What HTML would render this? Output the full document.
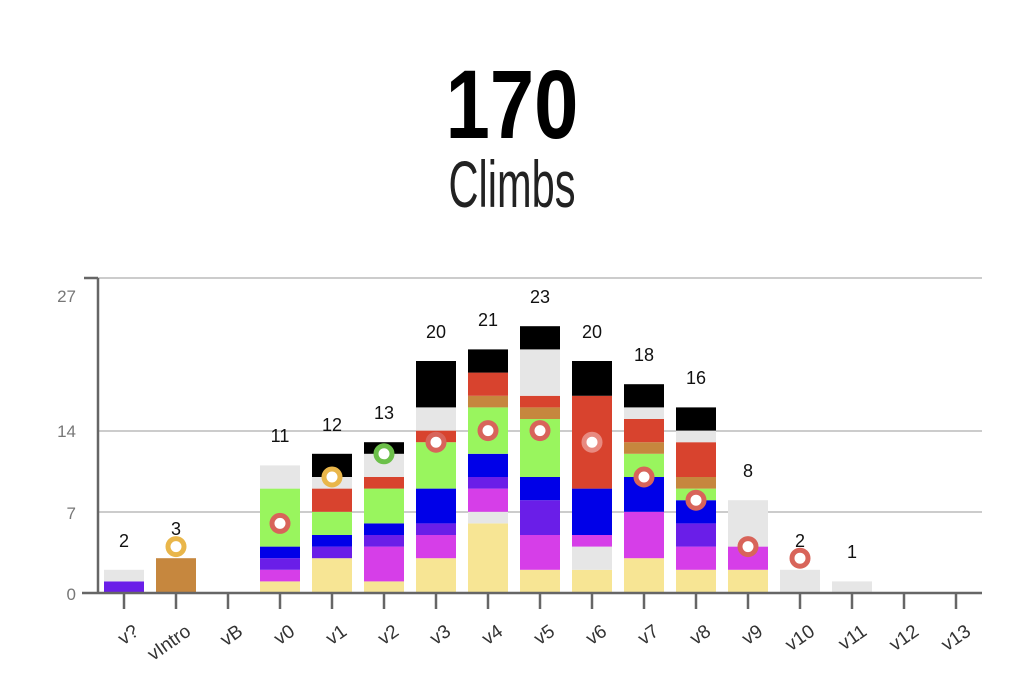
<!DOCTYPE html>
<html><head><meta charset="utf-8"><style>
html,body{margin:0;padding:0;background:#fff;width:1024px;height:681px;overflow:hidden}
svg{display:block}
text{font-family:"Liberation Sans",sans-serif}
</style></head><body>
<svg width="1024" height="681" viewBox="0 0 1024 681">
<text transform="translate(512,138) scale(0.82,1)" text-anchor="middle" font-size="97" font-weight="bold" fill="#000">170</text>
<text transform="translate(512,207) scale(0.63,1)" text-anchor="middle" font-size="66" fill="#222">Climbs</text>
<g stroke="#ccc" stroke-width="2">
<line x1="98" y1="278" x2="982" y2="278"/><line x1="98" y1="431" x2="982" y2="431"/><line x1="98" y1="512" x2="982" y2="512"/>
</g>
<g fill="#777" font-size="17" text-anchor="end">
<text x="76" y="302">27</text><text x="76" y="437">14</text><text x="76" y="519">7</text><text x="76" y="600">0</text>
</g>
<g>
<rect x="104" y="581.4" width="40" height="11.6" fill="#6a1ee8"/><rect x="104" y="569.8" width="40" height="11.6" fill="#e6e6e6"/>
<rect x="156" y="558.2" width="40" height="34.8" fill="#c6873e"/>
<rect x="260" y="581.4" width="40" height="11.6" fill="#f7e594"/><rect x="260" y="569.8" width="40" height="11.6" fill="#d63ee8"/><rect x="260" y="558.2" width="40" height="11.6" fill="#6a1ee8"/><rect x="260" y="546.6" width="40" height="11.6" fill="#0000e8"/><rect x="260" y="488.6" width="40" height="58" fill="#99f55e"/><rect x="260" y="465.4" width="40" height="23.2" fill="#e6e6e6"/>
<rect x="312" y="558.2" width="40" height="34.8" fill="#f7e594"/><rect x="312" y="546.6" width="40" height="11.6" fill="#6a1ee8"/><rect x="312" y="535" width="40" height="11.6" fill="#0000e8"/><rect x="312" y="511.8" width="40" height="23.2" fill="#99f55e"/><rect x="312" y="488.6" width="40" height="23.2" fill="#d8432e"/><rect x="312" y="477" width="40" height="11.6" fill="#e6e6e6"/><rect x="312" y="453.8" width="40" height="23.2" fill="#000"/>
<rect x="364" y="581.4" width="40" height="11.6" fill="#f7e594"/><rect x="364" y="546.6" width="40" height="34.8" fill="#d63ee8"/><rect x="364" y="535" width="40" height="11.6" fill="#6a1ee8"/><rect x="364" y="523.4" width="40" height="11.6" fill="#0000e8"/><rect x="364" y="488.6" width="40" height="34.8" fill="#99f55e"/><rect x="364" y="477" width="40" height="11.6" fill="#d8432e"/><rect x="364" y="453.8" width="40" height="23.2" fill="#e6e6e6"/><rect x="364" y="442.2" width="40" height="11.6" fill="#000"/>
<rect x="416" y="558.2" width="40" height="34.8" fill="#f7e594"/><rect x="416" y="535" width="40" height="23.2" fill="#d63ee8"/><rect x="416" y="523.4" width="40" height="11.6" fill="#6a1ee8"/><rect x="416" y="488.6" width="40" height="34.8" fill="#0000e8"/><rect x="416" y="442.2" width="40" height="46.4" fill="#99f55e"/><rect x="416" y="430.6" width="40" height="11.6" fill="#d8432e"/><rect x="416" y="407.4" width="40" height="23.2" fill="#e6e6e6"/><rect x="416" y="361" width="40" height="46.4" fill="#000"/>
<rect x="468" y="523.4" width="40" height="69.6" fill="#f7e594"/><rect x="468" y="511.8" width="40" height="11.6" fill="#e6e6e6"/><rect x="468" y="488.6" width="40" height="23.2" fill="#d63ee8"/><rect x="468" y="477" width="40" height="11.6" fill="#6a1ee8"/><rect x="468" y="453.8" width="40" height="23.2" fill="#0000e8"/><rect x="468" y="407.4" width="40" height="46.4" fill="#99f55e"/><rect x="468" y="395.8" width="40" height="11.6" fill="#c6873e"/><rect x="468" y="372.6" width="40" height="23.2" fill="#d8432e"/><rect x="468" y="349.4" width="40" height="23.2" fill="#000"/>
<rect x="520" y="569.8" width="40" height="23.2" fill="#f7e594"/><rect x="520" y="535" width="40" height="34.8" fill="#d63ee8"/><rect x="520" y="500.2" width="40" height="34.8" fill="#6a1ee8"/><rect x="520" y="477" width="40" height="23.2" fill="#0000e8"/><rect x="520" y="419" width="40" height="58" fill="#99f55e"/><rect x="520" y="407.4" width="40" height="11.6" fill="#c6873e"/><rect x="520" y="395.8" width="40" height="11.6" fill="#d8432e"/><rect x="520" y="349.4" width="40" height="46.4" fill="#e6e6e6"/><rect x="520" y="326.2" width="40" height="23.2" fill="#000"/>
<rect x="572" y="569.8" width="40" height="23.2" fill="#f7e594"/><rect x="572" y="546.6" width="40" height="23.2" fill="#e6e6e6"/><rect x="572" y="535" width="40" height="11.6" fill="#d63ee8"/><rect x="572" y="488.6" width="40" height="46.4" fill="#0000e8"/><rect x="572" y="395.8" width="40" height="92.8" fill="#d8432e"/><rect x="572" y="361" width="40" height="34.8" fill="#000"/>
<rect x="624" y="558.2" width="40" height="34.8" fill="#f7e594"/><rect x="624" y="511.8" width="40" height="46.4" fill="#d63ee8"/><rect x="624" y="477" width="40" height="34.8" fill="#0000e8"/><rect x="624" y="453.8" width="40" height="23.2" fill="#99f55e"/><rect x="624" y="442.2" width="40" height="11.6" fill="#c6873e"/><rect x="624" y="419" width="40" height="23.2" fill="#d8432e"/><rect x="624" y="407.4" width="40" height="11.6" fill="#e6e6e6"/><rect x="624" y="384.2" width="40" height="23.2" fill="#000"/>
<rect x="676" y="569.8" width="40" height="23.2" fill="#f7e594"/><rect x="676" y="546.6" width="40" height="23.2" fill="#d63ee8"/><rect x="676" y="523.4" width="40" height="23.2" fill="#6a1ee8"/><rect x="676" y="500.2" width="40" height="23.2" fill="#0000e8"/><rect x="676" y="488.6" width="40" height="11.6" fill="#99f55e"/><rect x="676" y="477" width="40" height="11.6" fill="#c6873e"/><rect x="676" y="442.2" width="40" height="34.8" fill="#d8432e"/><rect x="676" y="430.6" width="40" height="11.6" fill="#e6e6e6"/><rect x="676" y="407.4" width="40" height="23.2" fill="#000"/>
<rect x="728" y="569.8" width="40" height="23.2" fill="#f7e594"/><rect x="728" y="546.6" width="40" height="23.2" fill="#d63ee8"/><rect x="728" y="500.2" width="40" height="46.4" fill="#e6e6e6"/>
<rect x="780" y="569.8" width="40" height="23.2" fill="#e6e6e6"/><rect x="832" y="581.4" width="40" height="11.6" fill="#e6e6e6"/>
</g>
<g fill="#111" font-size="18" text-anchor="middle">
<text x="124" y="547">2</text><text x="176" y="535">3</text><text x="280" y="442">11</text><text x="332" y="431">12</text><text x="384" y="419">13</text><text x="436" y="338">20</text><text x="488" y="326">21</text><text x="540" y="303">23</text><text x="592" y="338">20</text><text x="644" y="361">18</text><text x="696" y="384">16</text><text x="748" y="477">8</text><text x="800" y="547">2</text><text x="852" y="558">1</text>
</g>
<g fill="#fff" stroke-width="5">
<circle cx="176" cy="546.6" r="8" stroke="#e9b64a"/>
<circle cx="280" cy="523.4" r="8" stroke="#d8645a"/>
<circle cx="332" cy="477" r="8" stroke="#e9b64a"/>
<circle cx="384" cy="453.8" r="8" stroke="#6cc04a"/>
<circle cx="436" cy="442.2" r="8" stroke="#d8645a"/>
<circle cx="488" cy="430.6" r="8" stroke="#d8645a"/>
<circle cx="540" cy="430.6" r="8" stroke="#d8645a"/>
<circle cx="592" cy="442.2" r="8" stroke="#e88a80"/>
<circle cx="644" cy="477" r="8" stroke="#d8645a"/>
<circle cx="696" cy="500.2" r="8" stroke="#d8645a"/>
<circle cx="748" cy="546.6" r="8" stroke="#d8645a"/>
<circle cx="800" cy="558.2" r="8" stroke="#d8645a"/>
</g>
<g stroke="#666" stroke-width="2.5">
<line x1="98" y1="278" x2="98" y2="594"/><line x1="84" y1="278" x2="98" y2="278"/>
<line x1="82" y1="593" x2="982" y2="593"/>
<line x1="124" y1="593" x2="124" y2="609"/><line x1="176" y1="593" x2="176" y2="609"/><line x1="228" y1="593" x2="228" y2="609"/><line x1="280" y1="593" x2="280" y2="609"/><line x1="332" y1="593" x2="332" y2="609"/><line x1="384" y1="593" x2="384" y2="609"/><line x1="436" y1="593" x2="436" y2="609"/><line x1="488" y1="593" x2="488" y2="609"/><line x1="540" y1="593" x2="540" y2="609"/><line x1="592" y1="593" x2="592" y2="609"/><line x1="644" y1="593" x2="644" y2="609"/><line x1="696" y1="593" x2="696" y2="609"/><line x1="748" y1="593" x2="748" y2="609"/><line x1="800" y1="593" x2="800" y2="609"/><line x1="852" y1="593" x2="852" y2="609"/><line x1="904" y1="593" x2="904" y2="609"/><line x1="956" y1="593" x2="956" y2="609"/>
</g>
<g fill="#333" font-size="19" text-anchor="end">
<text transform="translate(140,634) rotate(-35)">v?</text>
<text transform="translate(192,634) rotate(-35)">vIntro</text>
<text transform="translate(244,634) rotate(-35)">vB</text>
<text transform="translate(296,634) rotate(-35)">v0</text>
<text transform="translate(348,634) rotate(-35)">v1</text>
<text transform="translate(400,634) rotate(-35)">v2</text>
<text transform="translate(452,634) rotate(-35)">v3</text>
<text transform="translate(504,634) rotate(-35)">v4</text>
<text transform="translate(556,634) rotate(-35)">v5</text>
<text transform="translate(608,634) rotate(-35)">v6</text>
<text transform="translate(660,634) rotate(-35)">v7</text>
<text transform="translate(712,634) rotate(-35)">v8</text>
<text transform="translate(764,634) rotate(-35)">v9</text>
<text transform="translate(816,634) rotate(-35)">v10</text>
<text transform="translate(868,634) rotate(-35)">v11</text>
<text transform="translate(920,634) rotate(-35)">v12</text>
<text transform="translate(972,634) rotate(-35)">v13</text>
</g>
</svg>
</body></html>
